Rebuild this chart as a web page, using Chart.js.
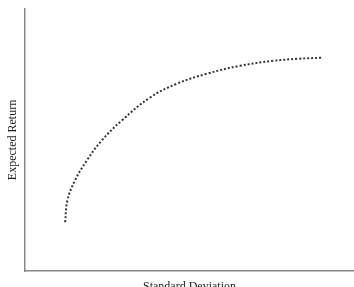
<!DOCTYPE html>
<html>
<head>
<meta charset="utf-8">
<script src="https://cdn.jsdelivr.net/npm/chart.js@4"></script>
<style>
  html, body { margin: 0; padding: 0; background: #fff; }
  #wrap { width: 354px; height: 287px; }
</style>
</head>
<body>
<div id="wrap"><canvas id="frontier"></canvas></div>
<script>
// risk / return points (arbitrary 0-100 units)
const stdDev = [12.2, 12.9, 15.2, 18.8, 23.3, 29.4, 38.0, 46.2, 55.3, 65.3, 75.4, 83.0, 90.0];
const expReturn = [18.6, 27.0, 34.6, 42.2, 49.8, 57.4, 66.2, 71.5, 75.3, 78.3, 80.2, 81.0, 81.4];

const xTitle = 'Standard Deviation';
const yTitle = 'Expected Return';

const points = stdDev.map((s, i) => ({ x: s, y: expReturn[i] }));

const ctx = document.getElementById('frontier').getContext('2d');
new Chart(ctx, {
    type: 'line',
    data: {
        datasets: [{
            data: points,
            borderColor: '#333',
            borderWidth: 2,
            borderDash: [2, 2],
            borderCapStyle: 'butt',
            pointRadius: 0,
            fill: false,
            tension: 0.4
        }]
    },
    options: {
        animation: false,
        responsive: true,
        maintainAspectRatio: false,
        layout: { padding: { top: 9, right: 0, bottom: 0, left: 0 } },
        plugins: {
            legend: { display: false },
            tooltip: { enabled: false }
        },
        scales: {
            x: {
                type: 'linear',
                min: 0,
                max: 100,
                ticks: { display: false },
                grid: { display: false },
                border: { display: true, color: '#888', width: 1.5 },
                title: {
                    display: true,
                    text: xTitle,
                    color: '#222',
                    font: { family: 'Liberation Serif', size: 12 },
                    padding: { top: 0, bottom: -7 }
                },
                afterFit: (scale) => { scale.height = 16; }
            },
            y: {
                min: 0,
                max: 100,
                ticks: { display: false },
                grid: { display: false },
                border: { display: true, color: '#888', width: 1.5 },
                title: {
                    display: true,
                    text: yTitle,
                    color: '#222',
                    font: { family: 'Liberation Serif', size: 12 },
                    padding: { top: 6, bottom: 0 }
                },
                afterFit: (scale) => { scale.width = 25; }
            }
        }
    }
});
</script>
</body>
</html>
